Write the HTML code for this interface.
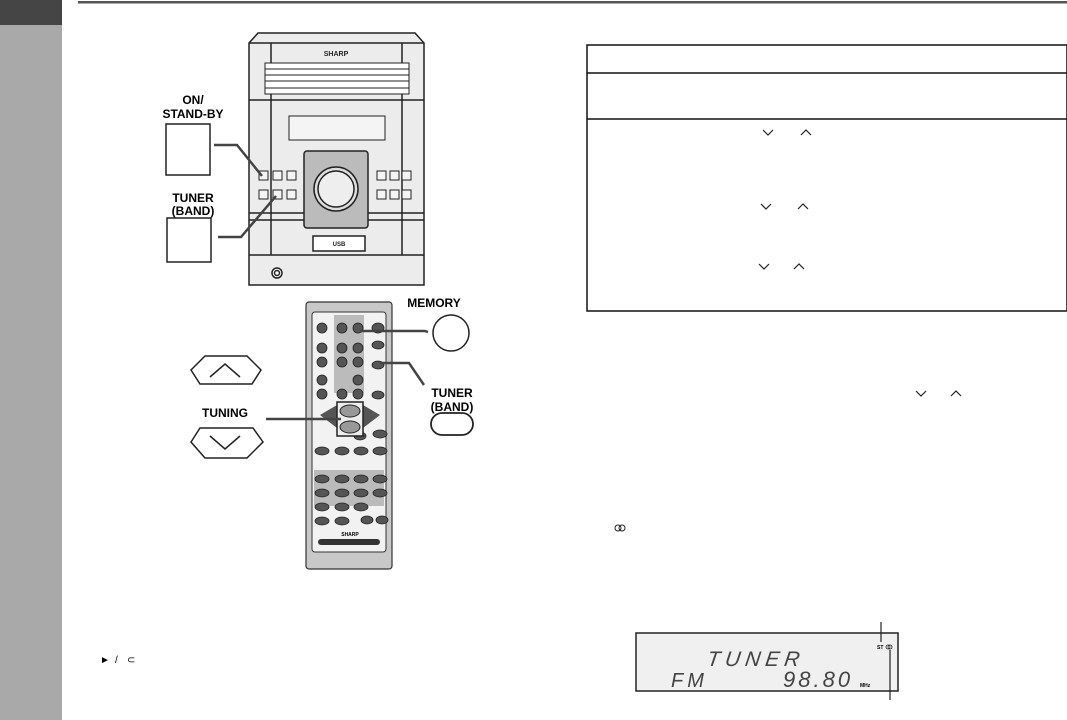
<!DOCTYPE html>
<html><head><meta charset="utf-8"><style>
html,body{margin:0;padding:0;background:#fff;width:1067px;height:720px;overflow:hidden}
svg{display:block}
text{font-family:"Liberation Sans",sans-serif}
</style></head><body>
<svg width="1067" height="720" viewBox="0 0 1067 720" xmlns="http://www.w3.org/2000/svg">
<rect x="0" y="0" width="62" height="720" fill="#a9a9a9"/>
<rect x="0" y="0" width="62" height="25" fill="#454545"/>
<rect x="78" y="1" width="989" height="2.5" fill="#555"/>

<!-- Stereo unit -->
<g stroke="#222" fill="#ececec" stroke-width="1.5">
<path d="M249,43 L258,33 L415,33 L424,43 L424,285 L249,285 Z" fill="#ececec"/>
<line x1="249" y1="43" x2="424" y2="43"/>
<line x1="271" y1="43" x2="271" y2="100" fill="none"/>
<line x1="402" y1="43" x2="402" y2="100" fill="none"/>
<rect x="265" y="63" width="144" height="31" fill="#fff" stroke-width="1"/>
<line x1="265" y1="69" x2="409" y2="69" stroke-width="1"/>
<line x1="265" y1="75" x2="409" y2="75" stroke-width="1"/>
<line x1="265" y1="81" x2="409" y2="81" stroke-width="1"/>
<line x1="265" y1="88" x2="409" y2="88" stroke-width="1"/>
<line x1="249" y1="100" x2="424" y2="100"/>
<line x1="271" y1="100" x2="271" y2="255" fill="none"/>
<line x1="402" y1="100" x2="402" y2="255" fill="none"/>
<rect x="289" y="116" width="96" height="24" fill="#f4f4f4" stroke-width="1"/>
<line x1="249" y1="213" x2="424" y2="213"/>
<line x1="249" y1="220" x2="424" y2="220"/>
<line x1="249" y1="255" x2="424" y2="255"/>
<rect x="304" y="151" width="64" height="77" rx="3" fill="#bbb"/>
<circle cx="336" cy="189" r="22" fill="#ddd"/>
<circle cx="336" cy="189" r="18" fill="#eee"/>
<rect x="313" y="236" width="52" height="15" fill="#fff"/>
<circle cx="277" cy="273" r="5" fill="#fff"/>
<circle cx="277" cy="273" r="2.5" fill="#fff"/>
</g>
<text x="336" y="56" font-size="7" font-weight="bold" text-anchor="middle" fill="#222">SHARP</text>
<text x="339" y="246" font-size="6" font-weight="bold" text-anchor="middle" fill="#222">USB</text>
<g stroke="#222" fill="#f4f4f4" stroke-width="1">
<rect x="259" y="171" width="9" height="9"/><rect x="273" y="171" width="9" height="9"/><rect x="287" y="171" width="9" height="9"/>
<rect x="259" y="190" width="9" height="9"/><rect x="273" y="190" width="9" height="9"/><rect x="287" y="190" width="9" height="9"/>
<rect x="377" y="171" width="9" height="9"/><rect x="390" y="171" width="9" height="9"/><rect x="402" y="171" width="9" height="9"/>
<rect x="377" y="190" width="9" height="9"/><rect x="390" y="190" width="9" height="9"/><rect x="402" y="190" width="9" height="9"/>
</g>
<!-- labels left -->
<text x="193" y="104" font-size="12" font-weight="bold" text-anchor="middle">ON/</text>
<text x="193" y="118" font-size="12" font-weight="bold" text-anchor="middle">STAND-BY</text>
<rect x="166" y="124" width="44" height="51" fill="#fff" stroke="#222" stroke-width="1.5"/>
<text x="193" y="202" font-size="12" font-weight="bold" text-anchor="middle">TUNER</text>
<text x="193" y="215" font-size="12" font-weight="bold" text-anchor="middle">(BAND)</text>
<rect x="167" y="218" width="44" height="44" fill="#fff" stroke="#222" stroke-width="1.5"/>
<polyline points="214,145 237,145 262,176" fill="none" stroke="#444" stroke-width="2.5"/>
<polyline points="218,237 241,237 276,196" fill="none" stroke="#444" stroke-width="2.5"/>

<!-- Remote -->
<rect x="306" y="302" width="86" height="267" rx="3" fill="#c8c8c8" stroke="#333" stroke-width="1.2"/>
<rect x="312" y="312" width="74" height="240" rx="3" fill="#f2f2f2" stroke="#333" stroke-width="1"/>
<rect x="334" y="315" width="30" height="78" fill="#bbb"/>
<rect x="314" y="470" width="70" height="36" fill="#bbb"/>
<g fill="#555" stroke="#222" stroke-width="0.8">
<circle cx="322" cy="328" r="5"/><circle cx="322" cy="348" r="5"/><circle cx="322" cy="362" r="5"/><circle cx="322" cy="380" r="5"/><circle cx="322" cy="394" r="5"/>
<circle cx="342" cy="328" r="5"/><circle cx="358" cy="328" r="5"/><circle cx="342" cy="348" r="5"/><circle cx="358" cy="348" r="5"/><circle cx="342" cy="362" r="5"/><circle cx="358" cy="362" r="5"/><circle cx="358" cy="380" r="5"/><circle cx="342" cy="394" r="5"/><circle cx="358" cy="394" r="5"/>
<ellipse cx="378" cy="328" rx="6" ry="5"/><ellipse cx="378" cy="345" rx="6" ry="4"/><ellipse cx="378" cy="365" rx="6" ry="4"/><ellipse cx="378" cy="395" rx="6" ry="4"/>
<ellipse cx="322" cy="451" rx="7" ry="4"/><ellipse cx="342" cy="451" rx="7" ry="4"/><ellipse cx="361" cy="451" rx="7" ry="4"/><ellipse cx="380" cy="451" rx="7" ry="4"/>
<ellipse cx="380" cy="434" rx="7" ry="4"/><ellipse cx="360" cy="436" rx="6" ry="4"/>
<ellipse cx="322" cy="479" rx="7" ry="4"/><ellipse cx="342" cy="479" rx="7" ry="4"/><ellipse cx="361" cy="479" rx="7" ry="4"/><ellipse cx="380" cy="479" rx="7" ry="4"/>
<ellipse cx="322" cy="493" rx="7" ry="4"/><ellipse cx="342" cy="493" rx="7" ry="4"/><ellipse cx="361" cy="493" rx="7" ry="4"/><ellipse cx="380" cy="493" rx="7" ry="4"/>
<ellipse cx="322" cy="507" rx="7" ry="4"/><ellipse cx="342" cy="507" rx="7" ry="4"/><ellipse cx="361" cy="507" rx="7" ry="4"/>
<ellipse cx="322" cy="521" rx="7" ry="4"/><ellipse cx="342" cy="521" rx="7" ry="4"/><ellipse cx="367" cy="520" rx="6" ry="4"/><ellipse cx="382" cy="520" rx="6" ry="4"/>
</g>
<path d="M320,415 L337,405 L337,428 Z" fill="#555"/><path d="M380,415 L363,405 L363,428 Z" fill="#555"/>
<rect x="337" y="402" width="26" height="34" fill="#eee" stroke="#222" stroke-width="1.5"/>
<ellipse cx="350" cy="411" rx="10" ry="6" fill="#999" stroke="#222"/><ellipse cx="350" cy="427" rx="10" ry="6" fill="#999" stroke="#222"/>
<text x="350" y="536" font-size="5" font-weight="bold" text-anchor="middle">SHARP</text>
<rect x="318" y="539" width="62" height="6" rx="3" fill="#333"/>
<!-- remote labels -->
<text x="434" y="307" font-size="12" font-weight="bold" text-anchor="middle">MEMORY</text>
<circle cx="451" cy="333" r="18" fill="#fff" stroke="#222" stroke-width="1.5"/>
<polyline points="360,331 425,331 428,332" fill="none" stroke="#444" stroke-width="2.5"/>
<text x="452" y="397" font-size="12" font-weight="bold" text-anchor="middle">TUNER</text>
<text x="452" y="411" font-size="12" font-weight="bold" text-anchor="middle">(BAND)</text>
<rect x="431" y="413" width="42" height="22" rx="11" fill="#fff" stroke="#222" stroke-width="1.8"/>
<polyline points="380,363 409,363 424,385" fill="none" stroke="#444" stroke-width="2.5"/>
<path d="M191,370 L205,356 L247,356 L261,370 L252,384 L200,384 Z" fill="#fff" stroke="#222" stroke-width="1.5"/>
<polyline points="210,377 225,364 240,377" fill="none" stroke="#222" stroke-width="1.5"/>
<text x="225" y="417" font-size="12" font-weight="bold" text-anchor="middle">TUNING</text>
<path d="M200,428 L253,428 L263,442 L247,458 L205,458 L191,442 Z" fill="#fff" stroke="#222" stroke-width="1.5"/>
<polyline points="210,436 225,449 240,436" fill="none" stroke="#222" stroke-width="1.5"/>
<line x1="266" y1="419" x2="341" y2="419" stroke="#444" stroke-width="2.5"/>

<!-- table -->
<rect x="587" y="45" width="480" height="266" fill="none" stroke="#111" stroke-width="1.5"/>
<line x1="587" y1="73" x2="1067" y2="73" stroke="#111" stroke-width="1.5"/>
<line x1="587" y1="119" x2="1067" y2="119" stroke="#111" stroke-width="1.5"/>
<g fill="none" stroke="#222" stroke-width="1.2">
<polyline points="763,130 768,135 773,130"/><polyline points="801,135 806,130 811,135"/>
<polyline points="761,204 766,209 771,204"/><polyline points="798,209 803,204 808,209"/>
<polyline points="759,264 764,269 769,264"/><polyline points="794,269 799,264 804,269"/>
<polyline points="916,391 921,396 926,391"/><polyline points="951,396 956,391 961,396"/>
</g>
<g fill="none" stroke="#222" stroke-width="1"><circle cx="618" cy="528" r="3"/><circle cx="622" cy="528" r="3"/></g>
<text x="100" y="663" font-size="10">►</text>
<text x="127" y="663" font-size="10">⊂</text>
<text x="115" y="663" font-size="10">/</text>

<!-- display -->
<rect x="636" y="633" width="262" height="58" fill="#f0f0f0" stroke="#222" stroke-width="1.5"/>
<text x="710" y="666" font-size="21" font-style="italic" fill="#444" letter-spacing="5" font-family="Liberation Mono,monospace" transform="skewX(-8) translate(90,0)">TUNER</text>
<text x="671" y="687" font-size="20" font-style="italic" fill="#444" letter-spacing="4" font-family="Liberation Mono,monospace">FM</text>
<text x="783" y="687" font-size="22" font-style="italic" fill="#444" letter-spacing="3" font-family="Liberation Mono,monospace">98.80</text>
<text x="860" y="687" font-size="5" font-weight="bold">MHz</text>
<text x="877" y="649" font-size="5" font-weight="bold">ST</text>
<g fill="none" stroke="#222" stroke-width="0.8"><circle cx="888" cy="647" r="2"/><circle cx="890" cy="647" r="2"/></g>
<line x1="881" y1="622" x2="881" y2="642" stroke="#222" stroke-width="1.2"/>
<line x1="890" y1="650" x2="890" y2="700" stroke="#222" stroke-width="1.2"/>
</svg>
</body></html>
